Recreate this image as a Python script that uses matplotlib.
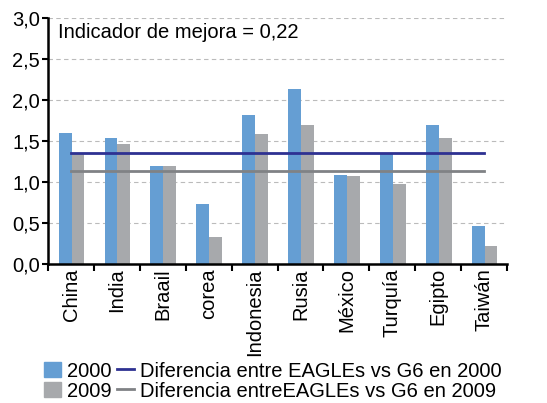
import numpy as np
import matplotlib.pyplot as plt
from matplotlib.patches import Patch
from matplotlib.lines import Line2D

plt.rcParams['font.family'] = ['Liberation Sans', 'DejaVu Sans']

countries = ['China', 'India', 'Braail', 'corea', 'Indonesia', 'Rusia',
             'México', 'Turquía', 'Egipto', 'Taiwán']
v2000 = [1.60, 1.54, 1.20, 0.73, 1.82, 2.14, 1.08, 1.35, 1.70, 0.46]
v2009 = [1.35, 1.46, 1.20, 0.33, 1.58, 1.69, 1.07, 0.98, 1.54, 0.22]
diff_2000 = 1.35
diff_2009 = 1.14
yticks = [0.0, 0.5, 1.0, 1.5, 2.0, 2.5, 3.0]

blue = '#659ed3'
grey = '#a7a9ac'
line_blue = '#2e3192'
line_grey = '#808285'
fs = 14.5

fig = plt.figure(figsize=(5.47, 4.03), dpi=100)
ax = fig.add_axes([0.088, 0.345, 0.839, 0.61])

x = np.arange(len(countries))
w = 0.28
ax.bar(x - 0.13, v2000, w, color=blue, zorder=2)
ax.bar(x + 0.15, v2009, w, color=grey, zorder=2)
ax.plot(x, [diff_2000] * len(x), color=line_blue, lw=2, zorder=3)
ax.plot(x, [diff_2009] * len(x), color=line_grey, lw=2, zorder=3)

ax.set_xlim(-0.5, len(x) - 0.5)
ax.set_ylim(0, 3.0)
ax.set_yticks(yticks)
ax.set_yticklabels([f'{t:.1f}'.replace('.', ',') for t in yticks], fontsize=fs)
ax.yaxis.grid(True, color='#bbbbbb', ls=(0, (4, 3)), lw=0.8, zorder=0)
ax.set_axisbelow(True)

ax.set_xticks(x)
ax.set_xticklabels(countries, rotation=90, fontsize=fs)
ax.tick_params(axis='x', length=0, pad=3)
ax.set_xticks(np.arange(-0.5, len(x)), minor=True)
ax.tick_params(axis='x', which='minor', length=5, width=1.5, direction='out')
ax.tick_params(axis='y', length=4, width=1.5, direction='out', pad=2)

for s in ['top', 'right']:
    ax.spines[s].set_visible(False)
for s in ['left', 'bottom']:
    ax.spines[s].set_linewidth(1.8)

ax.text(0.022, 0.94, 'Indicador de mejora = 0,22', transform=ax.transAxes,
        fontsize=fs, va='center', ha='left')

handles = [Patch(color=blue), Patch(color=grey),
           Line2D([], [], color=line_blue, lw=2), Line2D([], [], color=line_grey, lw=2)]
labels = ['2000', '2009', 'Diferencia entre EAGLEs vs G6 en 2000',
          'Diferencia entreEAGLEs vs G6 en 2009']
fig.legend(handles, labels, ncol=2, loc='lower left', bbox_to_anchor=(0.058, -0.024),
           frameon=False, fontsize=fs, handlelength=0.85, handleheight=0.75,
           handletextpad=0.3, columnspacing=0.25, labelspacing=0.05, borderpad=0.1)

fig.savefig('out.png', dpi=100)
